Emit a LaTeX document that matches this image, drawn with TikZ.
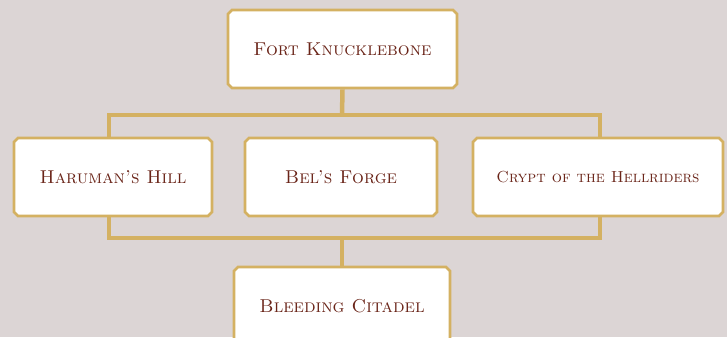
\documentclass[tikz,border=0pt]{standalone}
\usetikzlibrary{shapes.misc}
\definecolor{bg}{HTML}{DCD5D5}
\definecolor{gold}{HTML}{D4B162}
\definecolor{ink}{HTML}{6A2418}
\tikzset{
  place/.style={chamfered rectangle, chamfered rectangle xsep=2pt, chamfered rectangle ysep=2pt, chamfered rectangle corners={north east,north west,south east,south west},
    minimum height=78pt, fill=white, draw=gold, line width=2.6pt,
    text=ink, font=\fontsize{18.6}{22}\selectfont\scshape, inner sep=0pt},
  link/.style={draw=gold, line width=4.5pt}
}
\begin{document}
\begin{tikzpicture}[x=1pt,y=-1pt]
\useasboundingbox (0,0) rectangle (727,337);
\fill[bg] (0,0) rectangle (727,337);
\begin{scope}
\clip (0,0) rectangle (727,337);
\coordinate (tl) at (109,115);
\coordinate (tr) at (600,115);
\coordinate (bl) at (109,238);
\coordinate (br) at (600,238);
\coordinate (tm) at (342,115);
\coordinate (bm) at (342,238);
\draw[link] (tl) -- (tr) -- (br) -- (bl) -- cycle;
\node[place, minimum width=229pt] (fort) at (342.5,49) {Fort Knucklebone};
\node[place, minimum width=198pt] (haru) at (113,177) {Haruman's Hill};
\node[place, minimum width=192pt] (bel) at (341,177) {Bel's Forge};
\node[place, minimum width=250pt, font=\fontsize{16}{20}\selectfont\scshape] (crypt) at (598,177) {Crypt of the Hellriders};
\node[place, minimum width=216pt] (bleed) at (342,306) {Bleeding Citadel};
\draw[link] (fort.south) -- (tm);
\draw[link] (bm) -- (bleed.north);
\end{scope}
\end{tikzpicture}
\end{document}
